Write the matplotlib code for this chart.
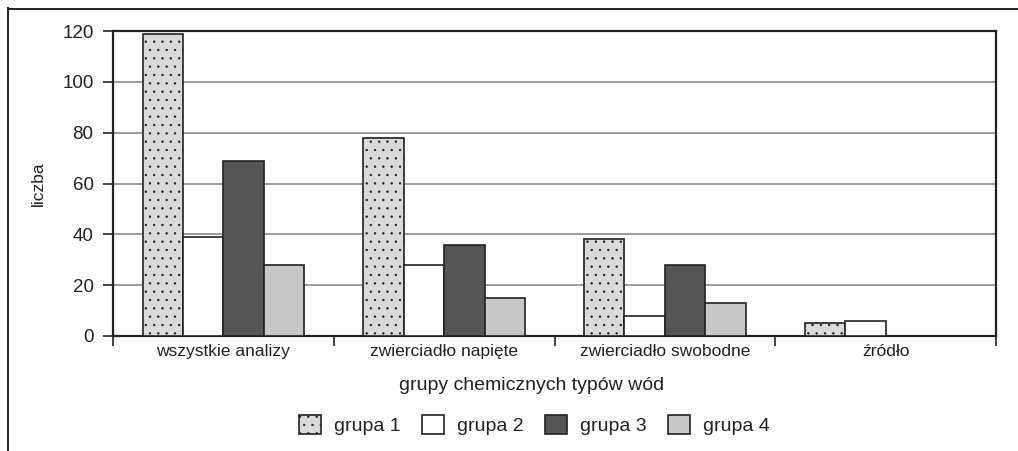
import numpy as np
import matplotlib.pyplot as plt
from matplotlib.lines import Line2D

plt.rcParams['font.family'] = ['Liberation Sans', 'DejaVu Sans']
plt.rcParams['hatch.color'] = '#c2c2c2'
plt.rcParams['hatch.linewidth'] = 0.5

# data
categories = ['wszystkie analizy', 'zwierciadło napięte', 'zwierciadło swobodne', 'źródło']
groups = ['grupa 1', 'grupa 2', 'grupa 3', 'grupa 4']
grupa1 = [119, 78, 38, 5]
grupa2 = [39, 28, 8, 6]
grupa3 = [69, 36, 28, 0]
grupa4 = [28, 15, 13, 0]
yticks = [0, 20, 40, 60, 80, 100, 120]

values = [grupa1, grupa2, grupa3, grupa4]
colors = ['#dadada', '#ffffff', '#555555', '#c8c8c8']
hatches = ['..', None, None, None]

fig = plt.figure(figsize=(10.18, 4.51), dpi=100)
ax = fig.add_axes([113 / 1018, 115 / 451, 883 / 1018, 305 / 451])

x = np.arange(len(categories))
width = 0.183
for i, (vals, c, h) in enumerate(zip(values, colors, hatches)):
    pos = x - 1.5 * width + i * width
    ax.bar(pos, vals, width, color=c, edgecolor='#222222', linewidth=1.2,
           hatch=h, label=groups[i], zorder=3)

ax.set_xlim(-0.5, len(categories) - 0.5)
ax.set_ylim(0, 120)
ax.set_yticks(yticks)
ax.tick_params(axis='y', labelsize=13.5, direction='out', length=7, width=1.2, colors='#222222', pad=7)
ax.set_xticks(x)
ax.set_xticklabels(categories, fontsize=12.5, color='#222222')
ax.tick_params(axis='x', length=0, pad=6)
# category separators on x axis
ax.set_xticks(np.arange(len(categories) + 1) - 0.5, minor=True)
ax.tick_params(axis='x', which='minor', direction='out', length=7, width=1.2, colors='#222222')

ax.yaxis.grid(True, color='#8a8a8a', linewidth=1.2, zorder=0)
ax.set_axisbelow(True)
for s in ax.spines.values():
    s.set_color('#222222')
    s.set_linewidth(1.6)

ax.set_ylabel('liczba', fontsize=12.5, color='#222222', labelpad=12)

# legend
fig.text(532 / 1018, 1 - 385 / 451, 'grupy chemicznych typów wód', fontsize=14,
         color='#222222', ha='center', va='center')
leg = fig.legend(loc='center', bbox_to_anchor=(534 / 1018, 1 - 425 / 451), ncol=4,
                 frameon=False, fontsize=14, handlelength=1.13, handleheight=1.1,
                 columnspacing=1.1, handletextpad=0.67, borderpad=0)
for t in leg.get_texts():
    t.set_color('#222222')

# outer frame (left and top only)
fig.add_artist(Line2D([8 / 1018, 8 / 1018], [0, 1 - 8 / 451], color='#222222', linewidth=1.4))
fig.add_artist(Line2D([8 / 1018, 1], [1 - 9 / 451, 1 - 9 / 451], color='#222222', linewidth=1.4))

fig.savefig('out.png', dpi=100)
